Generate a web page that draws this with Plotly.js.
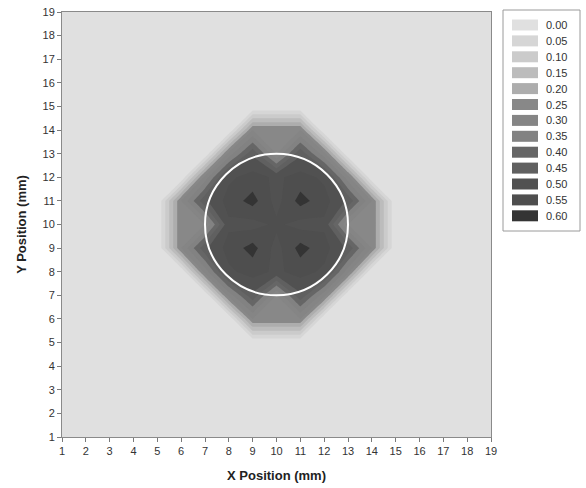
<!DOCTYPE html>
<html>
<head>
<meta charset="utf-8">
<script src="https://cdn.plot.ly/plotly-3.0.1.min.js"></script>
<style>
html,body{margin:0;padding:0;background:#ffffff;}
#chart{width:586px;height:488px;}
</style>
</head>
<body>
<div id="chart"></div>
<script>
// ---- data ----
const xPositions = [1,2,3,4,5,6,7,8,9,10,11,12,13,14,15,16,17,18,19];
const yPositions = [1,2,3,4,5,6,7,8,9,10,11,12,13,14,15,16,17,18,19];
// z values, one row per Y position (1..19), one column per X position (1..19)
const row1  = [0,0,0,0,0, 0,0,0,0,0,0,0,0,0, 0,0,0,0,0];
const row2  = [0,0,0,0,0, 0,0,0,0,0,0,0,0,0, 0,0,0,0,0];
const row3  = [0,0,0,0,0, 0,0,0,0,0,0,0,0,0, 0,0,0,0,0];
const row4  = [0,0,0,0,0, 0,0,0,0,0,0,0,0,0, 0,0,0,0,0];
const row5  = [0,0,0,0,0, 0,0,0,0,0,0,0,0,0, 0,0,0,0,0];
const row6  = [0,0,0,0,0, 0,0,0,0.30,0.30,0.30,0,0,0, 0,0,0,0,0];
const row7  = [0,0,0,0,0, 0,0,0.32,0.49,0.30,0.49,0.32,0,0, 0,0,0,0,0];
const row8  = [0,0,0,0,0, 0,0.32,0.54,0.57,0.54,0.57,0.54,0.32,0, 0,0,0,0,0];
const row9  = [0,0,0,0,0, 0.30,0.49,0.57,0.62,0.53,0.62,0.57,0.49,0.30, 0,0,0,0,0];
const row10 = [0,0,0,0,0, 0.30,0.30,0.54,0.53,0.56,0.53,0.54,0.30,0.30, 0,0,0,0,0];
const row11 = [0,0,0,0,0, 0.30,0.49,0.57,0.62,0.53,0.62,0.57,0.49,0.30, 0,0,0,0,0];
const row12 = [0,0,0,0,0, 0,0.32,0.54,0.57,0.54,0.57,0.54,0.32,0, 0,0,0,0,0];
const row13 = [0,0,0,0,0, 0,0,0.32,0.49,0.30,0.49,0.32,0,0, 0,0,0,0,0];
const row14 = [0,0,0,0,0, 0,0,0,0.30,0.30,0.30,0,0,0, 0,0,0,0,0];
const row15 = [0,0,0,0,0, 0,0,0,0,0,0,0,0,0, 0,0,0,0,0];
const row16 = [0,0,0,0,0, 0,0,0,0,0,0,0,0,0, 0,0,0,0,0];
const row17 = [0,0,0,0,0, 0,0,0,0,0,0,0,0,0, 0,0,0,0,0];
const row18 = [0,0,0,0,0, 0,0,0,0,0,0,0,0,0, 0,0,0,0,0];
const row19 = [0,0,0,0,0, 0,0,0,0,0,0,0,0,0, 0,0,0,0,0];
const zGrid = [row1,row2,row3,row4,row5,row6,row7,row8,row9,row10,row11,row12,row13,row14,row15,row16,row17,row18,row19];

const levels = [0.00,0.05,0.10,0.15,0.20,0.25,0.30,0.35,0.40,0.45,0.50,0.55,0.60];
const levelLabels = ['0.00','0.05','0.10','0.15','0.20','0.25','0.30','0.35','0.40','0.45','0.50','0.55','0.60'];
const levelColors = ['#e0e0e0','#d6d6d6','#cbcbcb','#bcbcbc','#adadad','#888888','#858585','#828282','#666666','#606060','#515151','#4e4e4e','#343434'];

const circleCenterX = 10;
const circleCenterY = 10;
const circleRadius = 3;

// ---- layout geometry (pixels) ----
const W = 586, H = 488;
const plotL = 62, plotR = 491, plotT = 12, plotB = 437;
const pw = plotR - plotL, ph = plotB - plotT;
const px2x = p => (p - plotL) / pw;
const py2y = p => (plotB - p) / ph;

const step = levels[1] - levels[0];
const nBands = levels.length;
const colorscale = levelColors.map((c, i) => [i / (nBands - 1), c]);

const trace = {
  type: 'contour',
  x: xPositions,
  y: yPositions,
  z: zGrid,
  autocontour: false,
  contours: {start: levels[1], end: levels[levels.length - 1], size: step, coloring: 'fill', showlines: false},
  line: {width: 0, smoothing: 0},
  colorscale: colorscale,
  showscale: false,
  hoverinfo: 'skip'
};

const FONT = 'Arial, "Liberation Sans", sans-serif';

const shapes = [];
const annotations = [];

// circle
shapes.push({
  type: 'circle', xref: 'x', yref: 'y',
  x0: circleCenterX - circleRadius, x1: circleCenterX + circleRadius,
  y0: circleCenterY - circleRadius, y1: circleCenterY + circleRadius,
  line: {color: '#ffffff', width: 2}, fillcolor: 'rgba(0,0,0,0)'
});

// legend box
shapes.push({
  type: 'rect', xref: 'paper', yref: 'paper',
  x0: px2x(503), x1: px2x(580), y0: py2y(231), y1: py2y(10),
  line: {color: '#9a9a9a', width: 1}, fillcolor: '#ffffff', layer: 'below'
});
levels.forEach((lv, i) => {
  const cy = 25 + i * 15.9;
  shapes.push({
    type: 'rect', xref: 'paper', yref: 'paper',
    x0: px2x(512), x1: px2x(538), y0: py2y(cy + 5.5), y1: py2y(cy - 5.5),
    line: {width: 0}, fillcolor: levelColors[i]
  });
  annotations.push({
    xref: 'paper', yref: 'paper', x: px2x(544), y: py2y(cy),
    xanchor: 'left', yanchor: 'middle', showarrow: false,
    text: levelLabels[i], font: {family: FONT, size: 11, color: '#333333'}
  });
});

const axisCommon = {
  range: [1, 19], tickmode: 'array', ticks: 'outside', ticklen: 4, tickwidth: 1, tickcolor: '#7a7a7a',
  showline: true, linecolor: '#8a8a8a', linewidth: 1, mirror: true,
  showgrid: false, zeroline: false,
  tickfont: {family: FONT, size: 11, color: '#333333'}
};

const layout = {
  width: W, height: H,
  margin: {l: plotL, r: W - plotR, t: plotT, b: H - plotB, pad: 0},
  paper_bgcolor: '#ffffff', plot_bgcolor: '#e0e0e0',
  showlegend: false,
  xaxis: Object.assign({}, axisCommon, {
    tickvals: xPositions, ticktext: xPositions.map(String),
    title: {text: 'X Position (mm)', font: {family: FONT, size: 13, color: '#222222', weight: 'bold'}, standoff: 14}
  }),
  yaxis: Object.assign({}, axisCommon, {
    tickvals: yPositions, ticktext: yPositions.map(String),
    title: {text: 'Y Position (mm)', font: {family: FONT, size: 13, color: '#222222', weight: 'bold'}, standoff: 12}
  }),
  shapes: shapes,
  annotations: annotations
};

Plotly.newPlot('chart', [trace], layout, {staticPlot: true, displayModeBar: false});
</script>
</body>
</html>
